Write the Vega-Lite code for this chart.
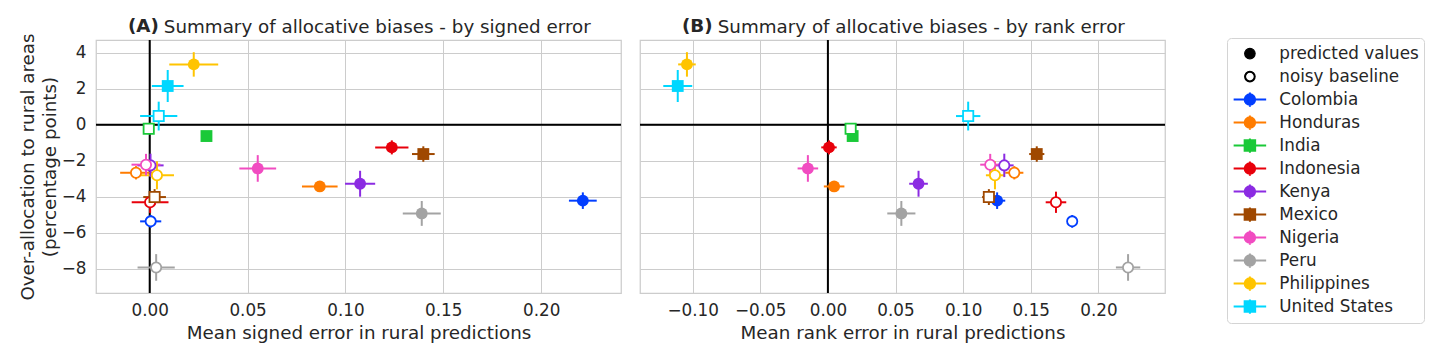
{
  "$schema": "https://vega.github.io/schema/vega-lite/v6.json",
  "padding": {"left": 17, "top": 16, "right": 5, "bottom": 5},
  "background": "white",
  "config": {
    "font": "DejaVu Sans",
    "view": {"stroke": "#cccccc", "strokeWidth": 1.25},
    "axis": {"gridColor": "#cccccc", "gridWidth": 1, "domain": false, "ticks": false, "tickSize": 0, "labelFontSize": 16.8, "labelColor": "#262626", "titleFontSize": 18.3, "titleFontWeight": "normal", "titleColor": "#262626"},
    "title": {"color": "#262626", "fontSize": 18.3}
  },
  "datasets": {
    "pts": [
      {"country": "Colombia", "type": "predicted values", "sx": 0.2213, "sxe": 0.0071, "rx": 0.1251, "rxe": 0.006, "y": -4.22, "ye": 0.46},
      {"country": "Honduras", "type": "predicted values", "sx": 0.0869, "sxe": 0.0091, "rx": 0.0046, "rxe": 0.0076, "y": -3.43, "ye": 0.3},
      {"country": "India", "type": "predicted values", "sx": 0.029, "sxe": 0.0, "rx": 0.0183, "rxe": 0.0, "y": -0.63, "ye": 0.0},
      {"country": "Indonesia", "type": "predicted values", "sx": 0.1237, "sxe": 0.0085, "rx": 0.0008, "rxe": 0.0057, "y": -1.26, "ye": 0.39},
      {"country": "Kenya", "type": "predicted values", "sx": 0.1075, "sxe": 0.0077, "rx": 0.067, "rxe": 0.0069, "y": -3.28, "ye": 0.72},
      {"country": "Mexico", "type": "predicted values", "sx": 0.1398, "sxe": 0.0058, "rx": 0.1544, "rxe": 0.0056, "y": -1.63, "ye": 0.43},
      {"country": "Nigeria", "type": "predicted values", "sx": 0.0552, "sxe": 0.0094, "rx": -0.0148, "rxe": 0.0076, "y": -2.43, "ye": 0.74},
      {"country": "Peru", "type": "predicted values", "sx": 0.139, "sxe": 0.0097, "rx": 0.0543, "rxe": 0.0104, "y": -4.93, "ye": 0.69},
      {"country": "Philippines", "type": "predicted values", "sx": 0.0225, "sxe": 0.0125, "rx": -0.1042, "rxe": 0.0065, "y": 3.35, "ye": 0.68},
      {"country": "United States", "type": "predicted values", "sx": 0.0092, "sxe": 0.0081, "rx": -0.111, "rxe": 0.0107, "y": 2.15, "ye": 0.89},
      {"country": "Colombia", "type": "noisy baseline", "sx": 0.0005, "sxe": 0.0054, "rx": 0.1806, "rxe": 0.0025, "y": -5.37, "ye": 0.35},
      {"country": "Honduras", "type": "noisy baseline", "sx": -0.007, "sxe": 0.0081, "rx": 0.1378, "rxe": 0.0067, "y": -2.67, "ye": 0.37},
      {"country": "India", "type": "noisy baseline", "sx": -0.0005, "sxe": 0.0, "rx": 0.0168, "rxe": 0.0, "y": -0.22, "ye": 0.0},
      {"country": "Indonesia", "type": "noisy baseline", "sx": 0.0002, "sxe": 0.0094, "rx": 0.1686, "rxe": 0.0076, "y": -4.31, "ye": 0.59},
      {"country": "Kenya", "type": "noisy baseline", "sx": 0.0004, "sxe": 0.0067, "rx": 0.1304, "rxe": 0.0069, "y": -2.26, "ye": 0.65},
      {"country": "Mexico", "type": "noisy baseline", "sx": 0.0025, "sxe": 0.0058, "rx": 0.119, "rxe": 0.005, "y": -4.02, "ye": 0.44},
      {"country": "Nigeria", "type": "noisy baseline", "sx": -0.0019, "sxe": 0.0074, "rx": 0.12, "rxe": 0.0074, "y": -2.22, "ye": 0.6},
      {"country": "Peru", "type": "noisy baseline", "sx": 0.0033, "sxe": 0.0095, "rx": 0.2219, "rxe": 0.009, "y": -7.93, "ye": 0.74},
      {"country": "Philippines", "type": "noisy baseline", "sx": 0.0037, "sxe": 0.0087, "rx": 0.1235, "rxe": 0.0067, "y": -2.81, "ye": 0.78},
      {"country": "United States", "type": "noisy baseline", "sx": 0.0046, "sxe": 0.0095, "rx": 0.1037, "rxe": 0.009, "y": 0.48, "ye": 0.8}
    ]
  },
  "resolve": {"scale": {"color": "shared"}},
  "spacing": 15,
  "hconcat": [
    {
      "width": 525, "height": 253,
      "title": {"text": "(A)", "anchor": "start", "frame": "group", "dx": 32, "dy": 33, "fontWeight": "bold", "baseline": "alphabetic", "offset": 0},
      "resolve": {"axis": {"x": "independent"}},
      "layer": [
        {
          "data": {"values": [{}]},
          "mark": {"type": "rule", "color": "black", "strokeWidth": 2},
          "encoding": {
            "x": {"datum": 0, "type": "quantitative", "scale": {"domain": [-0.02744, 0.2408], "nice": false, "zero": false},
              "axis": {"orient": "top", "labels": false, "grid": false, "title": "Summary of allocative biases - by signed error", "titleX": 280.8, "titleY": -8, "titleAlign": "center", "titleBaseline": "alphabetic", "titlePadding": 0}}
          }
        },
        {
          "data": {"values": [{}]},
          "mark": {"type": "rule", "color": "black", "strokeWidth": 2},
          "encoding": {"y": {"datum": 0, "type": "quantitative", "scale": {"domain": [-9.35, 4.706], "nice": false, "zero": false}}}
        },
        {
          "data": {"name": "pts"},
          "encoding": {
            "x": {"field": "sx", "type": "quantitative", "scale": {"domain": [-0.02744, 0.2408], "nice": false, "zero": false},
              "axis": {"values": [0, 0.05, 0.1, 0.15, 0.2], "format": ".2f", "grid": true, "title": "Mean signed error in rural predictions", "labelPadding": 9, "titlePadding": 6}},
            "y": {"field": "y", "type": "quantitative", "scale": {"domain": [-9.35, 4.706], "nice": false, "zero": false},
              "axis": {"values": [-8, -6, -4, -2, 0, 2, 4], "grid": true, "title": ["Over-allocation to rural areas", "(percentage points)"], "labelPadding": 10, "titlePadding": 2, "titleLineHeight": 22}},
            "color": {"field": "country", "type": "nominal",
              "scale": {"domain": ["predicted values", "noisy baseline", "Colombia", "Honduras", "India", "Indonesia", "Kenya", "Mexico", "Nigeria", "Peru", "Philippines", "United States"],
                        "range": ["#000000", "#000000", "#023eff", "#ff7c00", "#1ac938", "#e8000b", "#8b2be2", "#9f4800", "#f14cc1", "#a3a3a3", "#ffc400", "#00d7ff"]},
              "legend": {
                "orient": "none", "legendX": 1131, "legendY": -2, "title": null,
                "labelFontSize": 16.8, "labelColor": "#262626", "labelFont": "DejaVu Sans",
                "symbolSize": 110, "rowPadding": 0, "clipHeight": 22.2, "symbolOffset": 10, "labelOffset": 21,
                "padding": 4.5, "strokeColor": "#d4d4d4", "fillColor": "white", "cornerRadius": 4,
                "encode": {"symbols": {"update": {
                  "shape": {"signal": "datum.value === 'predicted values' ? 'circle' : datum.value === 'noisy baseline' ? 'M-1,0A1,1,0,1,1,1,0A1,1,0,1,1,-1,0Z M-0.84,0A0.84,0.84,0,1,0,0.84,0A0.84,0.84,0,1,0,-0.84,0Z' : (indexof(['India', 'Mexico', 'United States'], datum.value) >= 0 ? 'M-1,-1L1,-1L1,1L-1,1Z M-3.1,0L3.1,0 M0,-1.35L0,1.35' : 'M-1,0A1,1,0,1,1,1,0A1,1,0,1,1,-1,0Z M-3.1,0L3.1,0 M0,-1.35L0,1.35')"},
                  "strokeWidth": {"signal": "(datum.value === 'predicted values' || datum.value === 'noisy baseline') ? 1.2 : 2"},
                  "opacity": {"value": 1},
                  "fillOpacity": {"value": 1},
                  "strokeOpacity": {"value": 1}
                }}}
              }
            }
          },
          "layer": [
            {"transform": [{"filter": "datum.type === 'predicted values'"}], "mark": {"type": "errorbar", "rule": {"strokeWidth": 2}}, "encoding": {"xError": {"field": "sxe"}}},
            {"transform": [{"filter": "datum.type === 'predicted values'"}], "mark": {"type": "errorbar", "rule": {"strokeWidth": 2}}, "encoding": {"yError": {"field": "ye"}}},
            {"transform": [{"filter": "datum.type === 'predicted values'"}], "mark": {"type": "point", "filled": true, "size": 140, "opacity": 1},
              "encoding": {"shape": {"condition": {"test": "indexof(['India', 'Mexico', 'United States'], datum.country) >= 0", "value": "square"}, "value": "circle"}}},
            {"transform": [{"filter": "datum.type === 'noisy baseline'"}], "mark": {"type": "errorbar", "rule": {"strokeWidth": 2}}, "encoding": {"xError": {"field": "sxe"}}},
            {"transform": [{"filter": "datum.type === 'noisy baseline'"}], "mark": {"type": "errorbar", "rule": {"strokeWidth": 2}}, "encoding": {"yError": {"field": "ye"}}},
            {"transform": [{"filter": "datum.type === 'noisy baseline'"}], "mark": {"type": "point", "filled": false, "fill": "white", "strokeWidth": 1.8, "size": 105, "opacity": 1},
              "encoding": {"shape": {"condition": {"test": "indexof(['India', 'Mexico', 'United States'], datum.country) >= 0", "value": "square"}, "value": "circle"}}}
          ]
        }
      ]
    },
    {
      "width": 525, "height": 253,
      "title": {"text": "(B)", "anchor": "start", "frame": "group", "dx": 42, "dy": 33, "fontWeight": "bold", "baseline": "alphabetic", "offset": 0},
      "resolve": {"axis": {"x": "independent"}},
      "layer": [
        {
          "data": {"values": [{}]},
          "mark": {"type": "rule", "color": "black", "strokeWidth": 2},
          "encoding": {
            "x": {"datum": 0, "type": "quantitative", "scale": {"domain": [-0.1389, 0.2492], "nice": false, "zero": false},
              "axis": {"orient": "top", "labels": false, "grid": false, "title": "Summary of allocative biases - by rank error", "titleX": 280.8, "titleY": -8, "titleAlign": "center", "titleBaseline": "alphabetic", "titlePadding": 0}}
          }
        },
        {
          "data": {"values": [{}]},
          "mark": {"type": "rule", "color": "black", "strokeWidth": 2},
          "encoding": {"y": {"datum": 0, "type": "quantitative", "scale": {"domain": [-9.35, 4.706], "nice": false, "zero": false}}}
        },
        {
          "data": {"name": "pts"},
          "encoding": {
            "x": {"field": "rx", "type": "quantitative", "scale": {"domain": [-0.1389, 0.2492], "nice": false, "zero": false},
              "axis": {"values": [-0.1, -0.05, 0, 0.05, 0.1, 0.15, 0.2], "format": ".2f", "grid": true, "title": "Mean rank error in rural predictions", "labelPadding": 9, "titlePadding": 6}},
            "y": {"field": "y", "type": "quantitative", "scale": {"domain": [-9.35, 4.706], "nice": false, "zero": false},
              "axis": {"values": [-8, -6, -4, -2, 0, 2, 4], "grid": true, "labels": false, "title": null, "labelPadding": 0}},
            "color": {"field": "country", "type": "nominal",
              "scale": {"domain": ["predicted values", "noisy baseline", "Colombia", "Honduras", "India", "Indonesia", "Kenya", "Mexico", "Nigeria", "Peru", "Philippines", "United States"],
                        "range": ["#000000", "#000000", "#023eff", "#ff7c00", "#1ac938", "#e8000b", "#8b2be2", "#9f4800", "#f14cc1", "#a3a3a3", "#ffc400", "#00d7ff"]}}
          },
          "layer": [
            {"transform": [{"filter": "datum.type === 'predicted values'"}], "mark": {"type": "errorbar", "rule": {"strokeWidth": 2}}, "encoding": {"xError": {"field": "rxe"}}},
            {"transform": [{"filter": "datum.type === 'predicted values'"}], "mark": {"type": "errorbar", "rule": {"strokeWidth": 2}}, "encoding": {"yError": {"field": "ye"}}},
            {"transform": [{"filter": "datum.type === 'predicted values'"}], "mark": {"type": "point", "filled": true, "size": 140, "opacity": 1},
              "encoding": {"shape": {"condition": {"test": "indexof(['India', 'Mexico', 'United States'], datum.country) >= 0", "value": "square"}, "value": "circle"}}},
            {"transform": [{"filter": "datum.type === 'noisy baseline'"}], "mark": {"type": "errorbar", "rule": {"strokeWidth": 2}}, "encoding": {"xError": {"field": "rxe"}}},
            {"transform": [{"filter": "datum.type === 'noisy baseline'"}], "mark": {"type": "errorbar", "rule": {"strokeWidth": 2}}, "encoding": {"yError": {"field": "ye"}}},
            {"transform": [{"filter": "datum.type === 'noisy baseline'"}], "mark": {"type": "point", "filled": false, "fill": "white", "strokeWidth": 1.8, "size": 105, "opacity": 1},
              "encoding": {"shape": {"condition": {"test": "indexof(['India', 'Mexico', 'United States'], datum.country) >= 0", "value": "square"}, "value": "circle"}}}
          ]
        }
      ]
    }
  ]
}
